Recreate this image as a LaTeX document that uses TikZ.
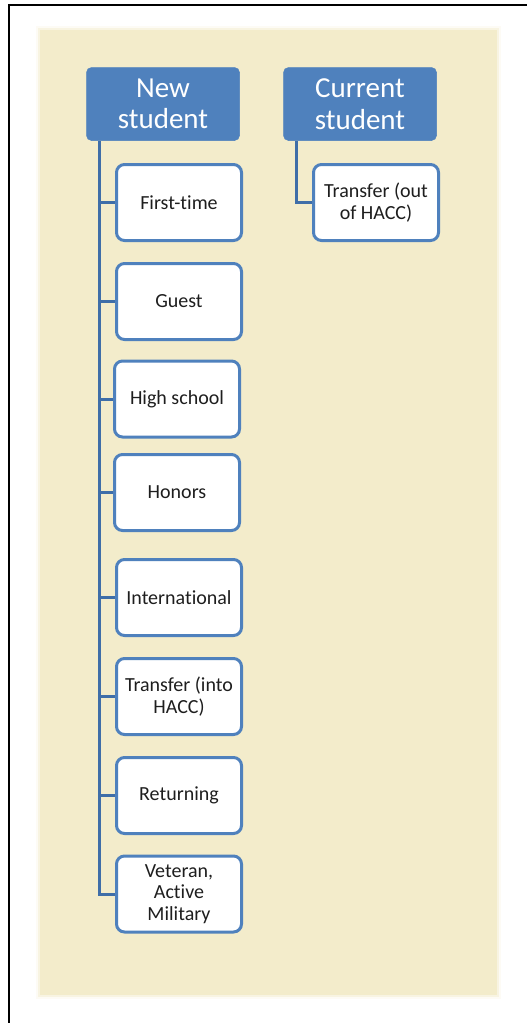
\documentclass[tikz,border=0pt]{standalone}
\usepackage{fontspec}
\setmainfont{Carlito}[Ligatures=NoCommon]
\definecolor{hdrblue}{HTML}{4F81BD}
\definecolor{boxblue}{HTML}{4F81BD}
\definecolor{linkblue}{HTML}{3F6EA8}
\definecolor{beige}{HTML}{F3ECCB}
\definecolor{txt}{HTML}{1E1E1E}
\tikzset{
  hdr/.style={rectangle, rounded corners=5pt, fill=hdrblue, draw=hdrblue, line width=0.5pt,
    minimum width=153pt, minimum height=73pt, inner sep=2pt, text=white, align=flush center,
    font=\fontsize{29}{31.5}\selectfont},
  item/.style={rectangle, rounded corners=8pt, fill=white, draw=boxblue, line width=3pt,
    minimum width=125pt, minimum height=76pt, inner sep=2pt, text=txt, align=flush center,
    text width=118pt, font=\fontsize{20}{21.5}\selectfont},
  link/.style={draw=linkblue, line width=3pt},
}
\begin{document}
\begin{tikzpicture}[x=1pt,y=-1pt]
\useasboundingbox (0,0) rectangle (527,1023);
\begin{scope}
\clip (0,0) rectangle (527,1023);
\draw[black, line width=2pt] (9,5) rectangle (560,1060);
\end{scope}
% beige panel with soft edge
\fill[beige, opacity=0.2] (36,26) rectangle (501,999);
\fill[beige, opacity=0.45] (38,28) rectangle (499,997);
\fill[beige] (40,30) rectangle (497,995);
% headers
\node[hdr] (new) at (163,104) {New\\student};
\node[hdr] (cur) at (360,104) {Current\\student};
% children
\node[item] (c1) at (179,202.5) {First-time};
\node[item] (c2) at (179,301.5) {Guest};
\node[item] (c3) at (177,399) {High school};
\node[item] (c4) at (177,492.5) {Honors};
\node[item] (c5) at (179,597.5) {International};
\node[item] (c6) at (179,696.5) {Transfer (into\\HACC)};
\node[item] (c7) at (179,795.5) {Returning};
\node[item] (c8) at (179,894) {Veteran,\\Active\\Military};
\node[item] (k1) at (376,202.5) {Transfer (out\\of HACC)};
% connectors
\coordinate (trunk) at (99,141);
\coordinate (ctrunk) at (296,141);
\draw[link] (trunk) |- (c8.west);
\foreach \c in {c1,c2,c3,c4,c5,c6,c7} {
  \draw[link] (trunk |- \c.west) -- (\c.west);
}
\draw[link] (ctrunk) |- (k1.west);
\end{tikzpicture}
\end{document}
